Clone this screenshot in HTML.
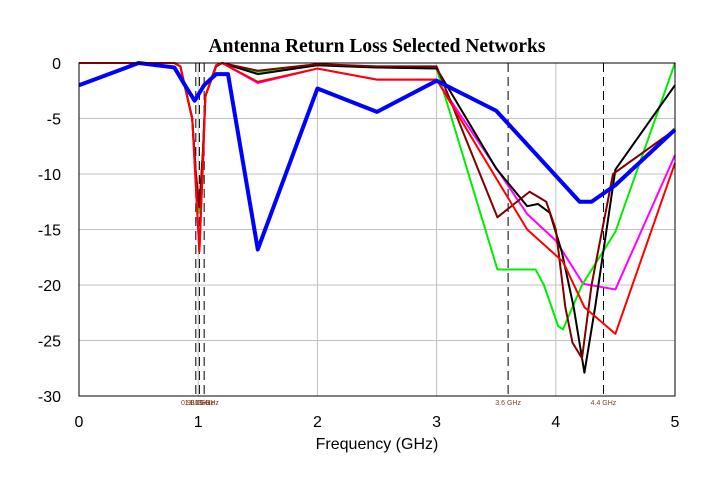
<!DOCTYPE html>
<html><head><meta charset="utf-8"><style>
html,body{margin:0;padding:0;background:#fff;width:728px;height:485px;overflow:hidden}
svg text{font-family:"Liberation Sans",Arial,sans-serif}
</style></head><body>
<svg id="chart" width="728" height="485">
<text x="377" y="52" text-anchor="middle" font-weight="bold" font-size="19.5" style="font-family:'Liberation Serif',serif">Antenna Return Loss Selected Networks</text>
<g id="grid"></g>
<g id="markers"></g>
<g id="series"></g>
<rect x="79" y="63" width="596" height="333" fill="none" stroke="#000" stroke-width="1"/>
<g id="ticks"></g>
<text x="377" y="449" text-anchor="middle" font-size="16">Frequency (GHz)</text>
</svg>
<script>
const xTicks=[0,1,2,3,4,5];
const yTicks=[0,-5,-10,-15,-20,-25,-30];
const markerFreqs=[0.98,1.01,1.05,3.6,4.4];
const markerLabels=["0.98 GHz","1.01 GHz","1.05 GHz","3.6 GHz","4.4 GHz"];
const redX=[0,0.8,0.85,0.95,0.98,1.01,1.04,1.06,1.15,1.2,1.5,2,2.5,3,3.76,4.06,4.24,4.5,5];
const redY=[0,0,-0.3,-5,-11,-17,-9,-3,-0.2,0,-1.7,-0.5,-1.5,-1.5,-15,-17.9,-22,-24.4,-9];
const magentaX=[0,0.8,0.85,0.95,0.98,1.01,1.04,1.06,1.15,1.2,1.5,2,2.5,3,3.76,4.0,4.23,4.5,5];
const magentaY=[0,0,-0.3,-5,-11,-17,-9,-3,-0.2,0,-1.8,-0.5,-1.5,-1.5,-13.6,-16,-19.9,-20.4,-8.3];
const greenX=[0,0.8,0.85,0.95,0.98,1.01,1.04,1.06,1.15,1.2,1.5,2,2.5,3,3.51,3.83,3.9,4.02,4.06,4.22,4.5,5];
const greenY=[0,0,-0.3,-5,-10,-13.5,-8,-3,-0.3,0,-0.8,-0.2,-0.4,-0.5,-18.6,-18.6,-20,-23.7,-24,-20,-15.2,0];
const blackX=[0,0.8,0.85,0.95,0.98,1.01,1.04,1.06,1.15,1.2,1.5,2,2.5,3,3.5,3.76,3.85,3.95,4.05,4.15,4.24,4.33,4.5,5];
const blackY=[0,0,-0.3,-5,-10,-13,-8,-3,-0.3,0,-1,-0.2,-0.4,-0.5,-9.5,-12.9,-12.7,-13.5,-17,-22,-27.9,-22,-9.6,-2];
const maroonX=[0,0.8,0.85,0.95,0.98,1.01,1.04,1.06,1.15,1.2,1.5,2,2.5,3,3.51,3.78,3.92,4.0,4.08,4.14,4.22,4.3,4.48,5];
const maroonY=[0,0,-0.3,-5,-10,-13,-8,-3,-0.3,0,-0.7,-0.1,-0.3,-0.3,-13.9,-11.6,-12.5,-15,-22,-25.2,-26.6,-20,-10,-6];
const blueX=[0,0.5,0.8,0.9,0.97,1.05,1.15,1.25,1.5,2,2.5,3,3.5,4.2,4.3,4.5,5];
const blueY=[-2,0,-0.4,-2.2,-3.4,-2,-1,-1,-16.8,-2.3,-4.4,-1.6,-4.3,-12.5,-12.5,-11,-6];
const X0=79,X1=675,Y0=63,Y1=396;
const sx=v=>X0+(v-0)/(5-0)*(X1-X0);
const sy=v=>Y0+(0-v)/(0+30)*(Y1-Y0);
const NS="http://www.w3.org/2000/svg";
function mk(tag,parent){const e=document.createElementNS(NS,tag);parent.appendChild(e);return e;}
const grid=document.getElementById('grid'),ticks=document.getElementById('ticks');
xTicks.forEach(t=>{
 const l=mk('line',grid);
 
 
 l.setAttribute('x1',sx(t));l.setAttribute('x2',sx(t));l.setAttribute('y1',Y0);l.setAttribute('y2',Y1);l.setAttribute('stroke','#c0c0c0');
 const tx=mk('text',ticks);
 
 
 tx.setAttribute('x',sx(t));tx.setAttribute('y',427);tx.setAttribute('text-anchor','middle');tx.setAttribute('font-size','16');tx.textContent=t;
});
yTicks.forEach(t=>{
 const l=mk('line',grid);
 
 
 l.setAttribute('x1',X0);l.setAttribute('x2',X1);l.setAttribute('y1',sy(t));l.setAttribute('y2',sy(t));l.setAttribute('stroke','#c0c0c0');
 const tx=mk('text',ticks);
 
 
 tx.setAttribute('x',61);tx.setAttribute('y',sy(t)+6);tx.setAttribute('text-anchor','end');tx.setAttribute('font-size','16');tx.textContent=t;
});
const mg=document.getElementById('markers');
markerFreqs.forEach((f,i)=>{
 const l=mk('line',mg);
 
 
 l.setAttribute('x1',sx(f));l.setAttribute('x2',sx(f));l.setAttribute('y1',Y0);l.setAttribute('y2',Y1);l.setAttribute('stroke','#000');l.setAttribute('stroke-dasharray','9,5');
 const tx=mk('text',mg);
 
 
 tx.setAttribute('x',sx(f));tx.setAttribute('y',405);tx.setAttribute('text-anchor','middle');tx.setAttribute('font-size','7');tx.setAttribute('fill','#804020');tx.textContent=markerLabels[i];
});
const sg=document.getElementById('series');
function line(xs,ys,color,w,name){
 const p=mk('polyline',sg);
 
 
 p.setAttribute('points',xs.map((x,i)=>sx(x)+','+sy(ys[i])).join(' '));
 p.setAttribute('fill','none');p.setAttribute('stroke',color);p.setAttribute('stroke-width',w);p.setAttribute('stroke-linejoin','round');
}
line(magentaX,magentaY,'#ff00ff',2,'magenta-series');
line(greenX,greenY,'#00ee00',2,'green-series');
line(blackX,blackY,'#000000',2,'black-series');
line(maroonX,maroonY,'#800000',2,'maroon-series');
line(redX,redY,'#ff0000',2,'red-series');
line(blueX,blueY,'#0000ff',4,'blue-series');
</script>
</body></html>
